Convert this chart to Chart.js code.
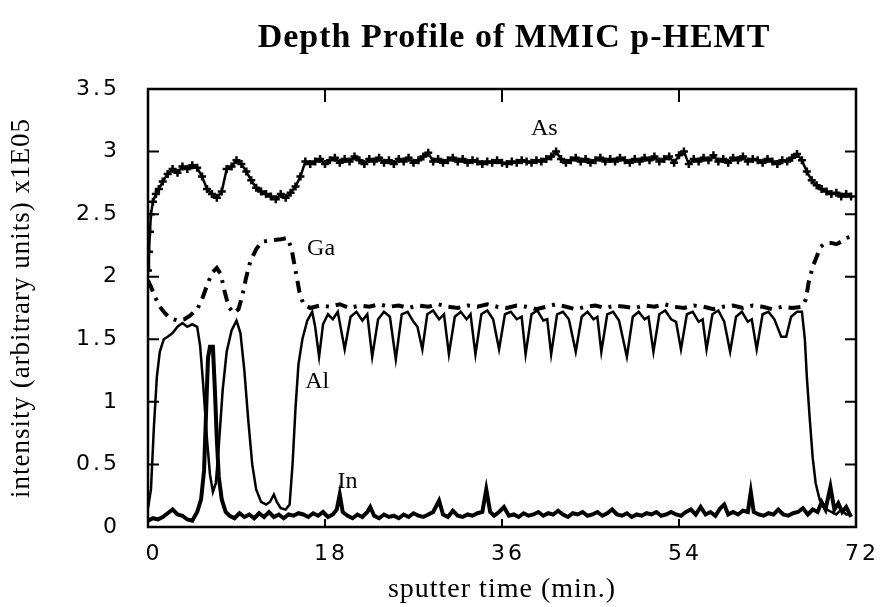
<!DOCTYPE html>
<html>
<head>
<title>Depth Profile of MMIC p-HEMT</title>
<script src="https://cdn.jsdelivr.net/npm/chart.js"></script>
<style>
  body { margin: 0; background: #fff; }
  canvas { display: block; }
</style>
</head>
<body>
<canvas id="depthChart" width="884" height="607"></canvas>
<script>
// sputter time (min.) and intensity (x1E05) for each element
var asTime = [0,0.1,0.2,0.3,0.5,0.8,1.1,1.5,2,2.5,3,3.5,4,4.5,5,5.5,6,6.5,7,7.5,8,8.5,9,9.5,10,10.5,11,11.5,12,12.5,13,13.5,14,14.5,15,15.5,16,16.5,17,17.5,18,18.5,19,19.5,20,20.5,21,21.5,22,22.5,23,23.5,24,24.5,25,25.5,26,26.5,27,27.5,28,28.5,29,29.5,30,30.5,31,31.5,32,32.5,33,33.5,34,34.5,35,35.5,36,36.5,37,37.5,38,38.5,39,39.5,40,40.5,41,41.5,42,42.5,43,43.5,44,44.5,45,45.5,46,46.5,47,47.5,48,48.5,49,49.5,50,50.5,51,51.5,52,52.5,53,53.5,54,54.5,55,55.5,56,56.5,57,57.5,58,58.5,59,59.5,60,60.5,61,61.5,62,62.5,63,63.5,64,64.5,65,65.5,66,66.5,67,67.5,68,68.5,69,69.5,70,70.5,71,71.5];
var asVal = [2.05,2.2,2.36,2.5,2.6,2.66,2.7,2.76,2.82,2.86,2.83,2.88,2.86,2.89,2.87,2.8,2.7,2.66,2.63,2.68,2.86,2.88,2.93,2.9,2.84,2.77,2.71,2.68,2.66,2.64,2.62,2.66,2.63,2.67,2.72,2.8,2.92,2.9,2.92,2.94,2.9,2.93,2.95,2.91,2.94,2.92,2.96,2.93,2.9,2.94,2.92,2.95,2.91,2.93,2.9,2.94,2.92,2.95,2.91,2.93,2.96,2.99,2.92,2.94,2.91,2.93,2.95,2.92,2.94,2.91,2.93,2.92,2.9,2.92,2.91,2.93,2.91,2.9,2.92,2.91,2.93,2.92,2.91,2.93,2.92,2.94,2.96,3.0,2.94,2.91,2.93,2.95,2.92,2.94,2.91,2.93,2.95,2.92,2.94,2.92,2.95,2.93,2.91,2.94,2.92,2.95,2.93,2.96,2.92,2.94,2.96,2.91,2.97,3.0,2.9,2.94,2.92,2.95,2.93,2.97,2.92,2.94,2.91,2.95,2.93,2.96,2.92,2.94,2.93,2.91,2.94,2.92,2.9,2.93,2.92,2.95,2.98,2.93,2.84,2.77,2.73,2.7,2.68,2.66,2.67,2.64,2.66,2.64];

var gaTime = [0,0.3,0.7,1.2,1.7,2.2,3,3.7,4.3,5,5.5,6,6.5,7,7.4,7.8,8.2,8.7,9.2,9.6,10,10.4,11,11.6,12.5,13.5,14.2,14.6,15,15.4,15.8,16.5,17.5,18.5,19.5,20.5,21.5,22.5,23.5,24.5,25.5,26.5,27.5,28.5,29.5,30.5,31.5,32.5,33.5,34.5,35.5,36.5,37.5,38.5,39.5,40.5,41.5,42.5,43.5,44.5,45.5,46.5,47.5,48.5,49.5,50.5,51.5,52.5,53.5,54.5,55.5,56.5,57.5,58.5,59.5,60.5,61.5,62.5,63.5,64.5,65.5,66.5,66.9,67.2,67.6,68,68.4,68.9,69.5,70,70.5,71,71.5];
var gaVal = [1.97,1.92,1.84,1.76,1.71,1.67,1.65,1.66,1.69,1.74,1.82,1.93,2.03,2.07,2.02,1.88,1.76,1.71,1.74,1.85,2.0,2.12,2.22,2.28,2.29,2.3,2.31,2.22,2.05,1.88,1.78,1.75,1.77,1.76,1.78,1.75,1.77,1.76,1.78,1.76,1.77,1.75,1.77,1.76,1.78,1.76,1.75,1.77,1.76,1.78,1.76,1.75,1.77,1.76,1.74,1.76,1.78,1.76,1.74,1.76,1.77,1.75,1.77,1.76,1.75,1.77,1.76,1.78,1.76,1.75,1.77,1.76,1.74,1.76,1.77,1.75,1.77,1.76,1.74,1.76,1.75,1.76,1.82,1.96,2.08,2.16,2.24,2.27,2.27,2.26,2.28,2.31,2.32];

var alTime = [0,0.3,0.6,0.9,1.2,1.6,2,2.5,3,3.5,4,4.5,5,5.3,5.6,6,6.3,6.6,6.9,7.2,7.6,8,8.5,9,9.4,9.8,10.2,10.6,11,11.5,12,12.4,12.8,13.1,13.5,14,14.4,14.7,15,15.3,15.7,16.2,16.7,17,17.4,17.8,18.3,18.8,19.3,20,20.6,21.2,21.8,22.3,22.8,23.4,24,24.6,25.2,25.8,26.4,27,27.4,27.9,28.4,29,29.6,30.1,30.6,31.2,31.8,32.4,32.8,33.3,33.9,34.5,35.1,35.7,36.3,36.9,37.5,38,38.4,39,39.6,40.2,40.6,41,41.6,42.2,42.8,43.5,44.1,44.7,45.3,45.7,46.1,46.7,47.3,47.9,48.7,49.3,49.9,50.5,50.9,51.4,52,52.6,53.2,53.7,54.2,54.8,55.4,56,56.4,56.8,57.4,58,58.6,59.2,59.8,60.4,61,61.4,61.9,62.5,63.1,63.7,64.4,64.9,65.4,66,66.5,66.8,67,67.3,67.6,67.9,68.3,68.8,69.5,70,70.5,71,71.5];
var alVal = [0.15,0.3,0.8,1.2,1.4,1.5,1.52,1.55,1.6,1.63,1.6,1.62,1.6,1.45,1.15,0.7,0.42,0.28,0.35,0.65,1.1,1.4,1.57,1.65,1.55,1.25,0.85,0.5,0.3,0.2,0.18,0.2,0.26,0.2,0.15,0.14,0.18,0.5,0.95,1.3,1.5,1.65,1.72,1.6,1.36,1.62,1.7,1.66,1.72,1.42,1.68,1.72,1.65,1.7,1.36,1.66,1.72,1.68,1.34,1.7,1.72,1.64,1.6,1.42,1.7,1.73,1.66,1.7,1.38,1.68,1.72,1.66,1.7,1.38,1.7,1.73,1.66,1.42,1.7,1.72,1.66,1.68,1.38,1.7,1.73,1.65,1.66,1.38,1.7,1.72,1.66,1.4,1.68,1.72,1.66,1.68,1.4,1.7,1.72,1.65,1.36,1.68,1.72,1.66,1.68,1.4,1.7,1.73,1.66,1.64,1.42,1.7,1.72,1.64,1.66,1.42,1.7,1.73,1.64,1.4,1.68,1.72,1.64,1.66,1.42,1.7,1.72,1.66,1.52,1.52,1.68,1.72,1.72,1.5,1.2,0.86,0.55,0.35,0.22,0.15,0.12,0.1,0.14,0.1,0.1];

var inTime = [0,0.5,1,1.5,2,2.5,3,3.5,4,4.5,5,5.4,5.7,5.9,6.1,6.3,6.6,6.8,7,7.2,7.5,7.9,8.3,8.8,9.3,9.8,10.3,10.8,11.3,11.8,12.3,12.8,13.3,13.8,14.3,14.8,15.3,15.8,16.3,16.8,17.3,17.8,18.3,18.8,19.2,19.5,19.8,20.3,20.8,21.3,21.8,22.3,22.6,23,23.5,24,24.5,25,25.5,26,26.5,27,27.5,28,28.5,29,29.6,30,30.5,31,31.5,32,32.5,33,33.5,34,34.4,34.8,35.2,35.7,36.2,36.7,37.2,37.7,38.2,38.7,39.2,39.7,40.2,40.7,41.2,41.7,42.2,42.7,43.2,43.7,44.2,44.7,45.2,45.7,46.2,46.7,47.2,47.7,48.2,48.7,49.2,49.7,50.2,50.7,51.2,51.7,52.2,52.7,53.2,53.7,54.2,54.7,55.2,55.7,56.2,56.7,57.2,57.7,58.2,58.6,59,59.5,60,60.5,61,61.3,61.6,62.1,62.6,63.1,63.6,64.1,64.6,65.1,65.6,66.1,66.6,67.1,67.6,68.1,68.5,68.9,69.4,69.8,70.2,70.6,71,71.5];
var inVal = [0.05,0.07,0.06,0.08,0.11,0.14,0.1,0.09,0.06,0.05,0.12,0.22,0.45,0.9,1.35,1.44,1.44,1.1,0.7,0.4,0.22,0.12,0.09,0.07,0.11,0.08,0.1,0.07,0.11,0.08,0.12,0.08,0.1,0.07,0.1,0.09,0.11,0.1,0.08,0.11,0.09,0.12,0.08,0.1,0.14,0.26,0.12,0.09,0.07,0.1,0.08,0.12,0.16,0.09,0.07,0.1,0.08,0.09,0.07,0.1,0.08,0.11,0.09,0.08,0.1,0.12,0.21,0.1,0.08,0.13,0.09,0.08,0.1,0.09,0.11,0.12,0.3,0.12,0.09,0.12,0.16,0.09,0.1,0.08,0.11,0.09,0.1,0.12,0.09,0.11,0.1,0.13,0.1,0.08,0.11,0.1,0.12,0.09,0.1,0.12,0.09,0.11,0.14,0.1,0.09,0.11,0.08,0.1,0.09,0.11,0.1,0.12,0.09,0.1,0.12,0.1,0.09,0.12,0.14,0.1,0.16,0.1,0.12,0.09,0.15,0.18,0.1,0.12,0.1,0.13,0.12,0.28,0.12,0.1,0.09,0.11,0.1,0.14,0.1,0.09,0.11,0.12,0.15,0.1,0.14,0.12,0.2,0.14,0.32,0.14,0.19,0.12,0.16,0.08];

var xTicks = [0, 18, 36, 54, 72];
var yTicks = [0, 0.5, 1, 1.5, 2, 2.5, 3, 3.5];

function pts(t, v) {
    return t.map(function (x, i) { return { x: x, y: v[i] }; });
}

// series names written next to the curves, at data coordinates
var curveNames = [
    { text: 'As', t: 40.3, v: 3.18 },
    { text: 'Ga', t: 17.6, v: 2.22 },
    { text: 'Al', t: 17.2, v: 1.16 },
    { text: 'In', t: 20.3, v: 0.36 }
];

// frame, inward ticks, title and curve names; letter spacing for the wide tick digits
var framePlugin = {
    id: 'frame',
    beforeDraw: function (chart) { chart.ctx.letterSpacing = '1px'; },
    afterDatasetsDraw: function (chart) { chart.ctx.letterSpacing = '3px'; },
    afterDraw: function (chart) {
        var ctx = chart.ctx, a = chart.chartArea, xs = chart.scales.x, ys = chart.scales.y;
        ctx.save();
        ctx.letterSpacing = '0px';
        ctx.strokeStyle = '#000';
        ctx.lineWidth = 2.5;
        ctx.strokeRect(a.left, a.top, a.right - a.left, a.bottom - a.top);
        ctx.lineWidth = 2;
        ctx.beginPath();
        ys.ticks.forEach(function (tk) {
            var py = ys.getPixelForValue(tk.value);
            ctx.moveTo(a.left, py); ctx.lineTo(a.left + 11, py);
            ctx.moveTo(a.right, py); ctx.lineTo(a.right - 11, py);
        });
        xs.ticks.forEach(function (tk) {
            var px = xs.getPixelForValue(tk.value);
            ctx.moveTo(px, a.top); ctx.lineTo(px, a.top + 13);
            ctx.moveTo(px, a.bottom); ctx.lineTo(px, a.bottom - 8);
        });
        ctx.stroke();

        ctx.fillStyle = '#000';
        ctx.textAlign = 'center';
        ctx.textBaseline = 'middle';
        ctx.letterSpacing = '1px';
        ctx.font = 'bold 34px "Liberation Serif"';
        ctx.fillText('Depth Profile of MMIC p-HEMT', (a.left + a.right) / 2 + 12, 38);

        ctx.letterSpacing = '0px';
        ctx.font = '24px "Liberation Serif"';
        curveNames.forEach(function (n) {
            ctx.fillText(n.text, xs.getPixelForValue(n.t), ys.getPixelForValue(n.v));
        });
        ctx.restore();
    }
};

var ctx = document.getElementById('depthChart').getContext('2d');
var depthChart = new Chart(ctx, {
    type: 'line',
    data: {
        datasets: [
            {
                label: 'As',
                data: pts(asTime, asVal),
                borderColor: '#000',
                borderWidth: 2.5,
                pointStyle: 'cross',
                pointRadius: 4,
                pointBorderWidth: 2.5,
                pointBorderColor: '#000',
                tension: 0
            },
            {
                label: 'Ga',
                data: pts(gaTime, gaVal),
                borderColor: '#000',
                borderWidth: 4,
                borderDash: [12, 7, 3, 7],
                pointRadius: 0,
                tension: 0
            },
            {
                label: 'Al',
                data: pts(alTime, alVal),
                borderColor: '#000',
                borderWidth: 2.5,
                pointRadius: 0,
                tension: 0
            },
            {
                label: 'In',
                data: pts(inTime, inVal),
                borderColor: '#000',
                borderWidth: 4,
                pointRadius: 0,
                tension: 0
            }
        ]
    },
    options: {
        responsive: false,
        animation: false,
        devicePixelRatio: 1,
        layout: { padding: { top: 89, right: 26, left: 0, bottom: 0 } },
        plugins: {
            legend: { display: false },
            tooltip: { enabled: false }
        },
        scales: {
            x: {
                type: 'linear',
                min: 0,
                max: 72,
                afterBuildTicks: function (s) { s.ticks = xTicks.map(function (v) { return { value: v }; }); },
                afterFit: function (s) { s.height = 80; },
                grid: { display: false, drawTicks: false },
                border: { display: false },
                ticks: {
                    z: 1,
                    color: '#000',
                    padding: 14,
                    labelOffset: 6,
                    maxRotation: 0,
                    autoSkip: false,
                    font: { family: '"DejaVu Sans"', size: 22 }
                },
                title: {
                    display: true,
                    text: 'sputter time (min.)',
                    color: '#000',
                    padding: { top: 0, bottom: 1 },
                    font: { family: '"Liberation Serif"', size: 28 }
                }
            },
            y: {
                min: 0,
                max: 3.5,
                afterBuildTicks: function (s) { s.ticks = yTicks.map(function (v) { return { value: v }; }); },
                afterFit: function (s) { s.width = 148; },
                grid: { display: false, drawTicks: false },
                border: { display: false },
                ticks: {
                    z: 1,
                    color: '#000',
                    padding: 28,
                    font: { family: '"DejaVu Sans"', size: 22 },
                    callback: function (v) { return String(v); }
                },
                title: {
                    display: true,
                    text: 'intensity (arbitrary units) x1E05',
                    color: '#000',
                    padding: { top: 6, bottom: 0 },
                    font: { family: '"Liberation Serif"', size: 27 }
                }
            }
        }
    },
    plugins: [framePlugin]
});
</script>
</body>
</html>
